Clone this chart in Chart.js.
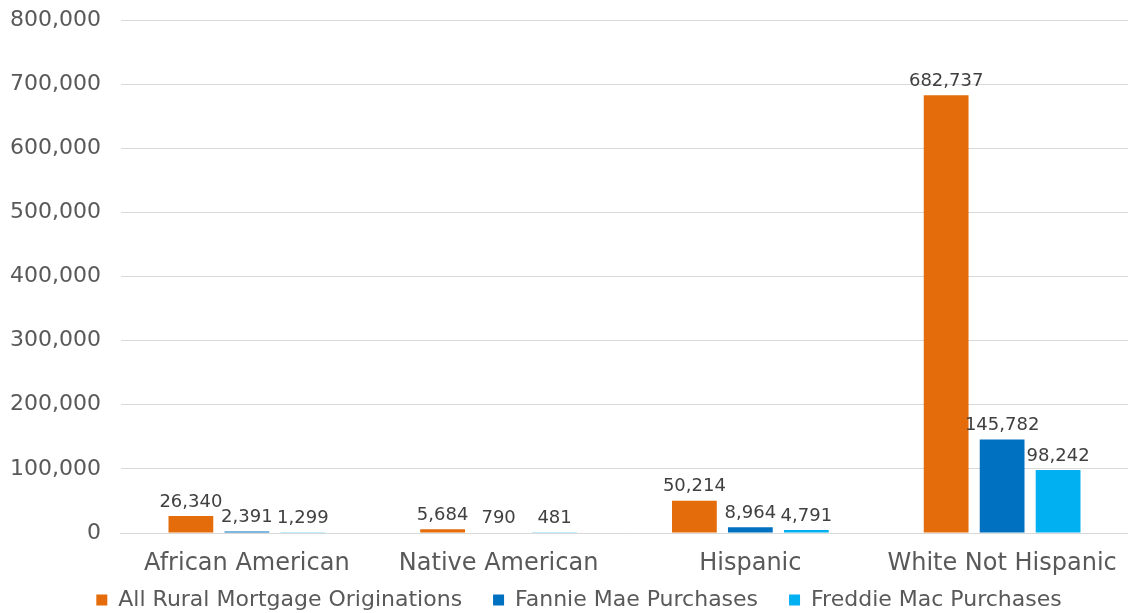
<!DOCTYPE html>
<html>
<head>
<meta charset="utf-8">
<script src="https://cdn.jsdelivr.net/npm/chart.js@4/dist/chart.umd.min.js"></script>
<style>
  body { margin: 0; background: #fff; }
  #wrap { width: 1128px; height: 613px; }
</style>
</head>
<body>
<div id="wrap"><canvas id="mortgageChart"></canvas></div>
<script>
// Kategori dan nilai
const categories = ['African American', 'Native American', 'Hispanic', 'White Not Hispanic'];
const allRural = [26340, 5684, 50214, 682737];
const fannieMae = [2391, 790, 8964, 145782];
const freddieMac = [1299, 481, 4791, 98242];
const seriesNames = ['All Rural Mortgage Originations', 'Fannie Mae Purchases', 'Freddie Mac Purchases'];

const FONT = "'DejaVu Sans', sans-serif";

// Label angka di atas bar
const valueLabels = {
  id: 'valueLabels',
  afterDatasetsDraw(chart) {
    const ctx = chart.ctx;
    ctx.save();
    ctx.font = '18px ' + FONT;
    ctx.fillStyle = '#404040';
    ctx.textAlign = 'center';
    ctx.textBaseline = 'bottom';
    chart.data.datasets.forEach((ds, i) => {
      chart.getDatasetMeta(i).data.forEach((bar, j) => {
        ctx.fillText(ds.data[j].toLocaleString('en-US'), bar.x, bar.y - 5);
      });
    });
    ctx.restore();
  }
};

// Geser legend sedikit ke kanan
const legendShift = {
  id: 'legendShift',
  afterLayout(chart) {
    if (chart.legend) {
      chart.legend.left += 14;
      chart.legend.right += 14;
    }
  }
};

const ctx = document.getElementById('mortgageChart').getContext('2d');
new Chart(ctx, {
  type: 'bar',
  data: {
    labels: categories,
    datasets: [
      { label: seriesNames[0], data: allRural, backgroundColor: '#E46C0A' },
      { label: seriesNames[1], data: fannieMae, backgroundColor: '#0070C0' },
      { label: seriesNames[2], data: freddieMac, backgroundColor: '#00B0F0' }
    ]
  },
  options: {
    responsive: true,
    maintainAspectRatio: false,
    animation: false,
    layout: { padding: { top: 0, right: -12, left: -10, bottom: -8 } },
    datasets: { bar: { categoryPercentage: 0.667, barPercentage: 0.8 } },
    scales: {
      x: {
        grid: { display: false, drawTicks: false },
        border: { display: true, color: '#d9d9d9' },
        ticks: { color: '#595959', font: { family: FONT, size: 24 }, padding: 16 },
        afterFit: s => { s.height = 46; s.paddingRight = 0; }
      },
      y: {
        min: 0, max: 800000,
        border: { display: false },
        grid: { color: '#d9d9d9', drawTicks: false },
        ticks: {
          stepSize: 100000,
          color: '#595959',
          padding: 20,
          font: { family: FONT, size: 22 },
          callback: v => v.toLocaleString('en-US')
        },
        afterFit: s => { s.paddingTop = 20; }
      }
    },
    plugins: {
      tooltip: { enabled: false },
      legend: {
        position: 'bottom',
        labels: {
          color: '#595959',
          font: { family: FONT, size: 22 },
          boxWidth: 11,
          boxHeight: 11,
          padding: 10,
          // spasi di belakang teks supaya jarak antar item lebih lebar
          generateLabels(chart) {
            const items = Chart.defaults.plugins.legend.labels.generateLabels(chart);
            items.forEach((it, i) => {
              if (i < items.length - 1) it.text = it.text + '   ';
            });
            return items;
          }
        }
      }
    }
  },
  plugins: [valueLabels, legendShift]
});
</script>
</body>
</html>
